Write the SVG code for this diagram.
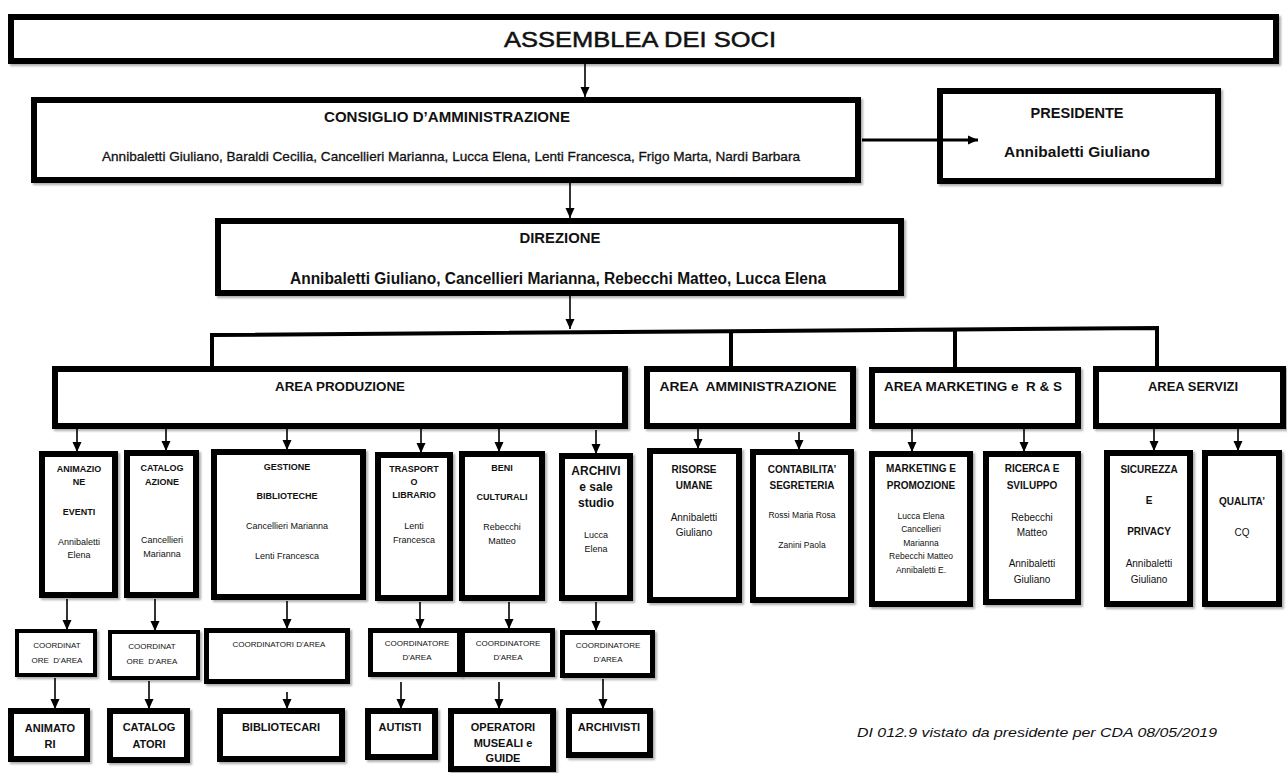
<svg xmlns="http://www.w3.org/2000/svg" width="1287" height="773" viewBox="0 0 1287 773">
<defs>
<marker id="ah" markerUnits="userSpaceOnUse" markerWidth="10" markerHeight="10" viewBox="0 0 10 10" refX="10" refY="5" orient="auto"><path d="M0,0.5 L10,5 L0,9.5 z" fill="#000"/></marker>
<filter id="sh" x="-10%" y="-10%" width="130%" height="130%"><feDropShadow dx="2" dy="2" stdDeviation="1" flood-color="#777" flood-opacity="0.6"/></filter>
<style>
rect{fill:#fff;stroke:#000;stroke-width:6;filter:url(#sh)}
rect.t4{stroke-width:4}
rect.t5{stroke-width:5}
text{font-family:"Liberation Sans Narrow","Liberation Sans",Arial,sans-serif;fill:#111;text-anchor:middle}
.h{font-weight:bold}
.big{font-size:22px}
.m{font-size:15px}
.a{font-size:13px;font-weight:bold;white-space:pre}
.s{font-size:9px}
.sb{font-size:9px;font-weight:bold}
.k{font-size:8px;white-space:pre}
.bb{font-size:11px;font-weight:bold}
.foot{font-size:13px;font-style:italic}
.c line,.c path{stroke:#000;fill:none}
.ar{stroke-width:1.6;marker-end:url(#ah)}
</style>
</defs>

<g id="assemblea"><rect x="11" y="17" width="1265" height="44"/><text class="big" x="640" y="47" textLength="272" lengthAdjust="spacingAndGlyphs" style="stroke:#111;stroke-width:0.5">ASSEMBLEA DEI SOCI</text></g>

<g id="consiglio"><rect x="34" y="100" width="824" height="80"/>
<text class="m h" x="447" y="122" textLength="246" lengthAdjust="spacingAndGlyphs">CONSIGLIO D’AMMINISTRAZIONE</text>
<text x="451" y="161" style="font-size:13.5px;stroke:#111;stroke-width:0.3" textLength="698" lengthAdjust="spacingAndGlyphs">Annibaletti Giuliano, Baraldi Cecilia, Cancellieri Marianna, Lucca Elena, Lenti Francesca, Frigo Marta, Nardi Barbara</text></g>

<g id="presidente"><rect x="940" y="91" width="278" height="90"/>
<text class="m h" x="1077" y="118" textLength="93" lengthAdjust="spacingAndGlyphs">PRESIDENTE</text>
<text class="m h" x="1077" y="157" textLength="146" lengthAdjust="spacingAndGlyphs">Annibaletti Giuliano</text></g>

<g id="direzione"><rect x="218" y="221" width="683" height="72"/>
<text class="m h" x="560" y="243" textLength="81" lengthAdjust="spacingAndGlyphs">DIREZIONE</text>
<text class="m h" x="558" y="284" style="font-size:16px" textLength="536" lengthAdjust="spacingAndGlyphs">Annibaletti Giuliano, Cancellieri Marianna, Rebecchi Matteo, Lucca Elena</text></g>

<g id="area-produzione"><rect x="55" y="369" width="570" height="57"/><text class="a" x="340" y="391" textLength="130" lengthAdjust="spacingAndGlyphs">AREA PRODUZIONE</text></g>
<g id="area-amministrazione"><rect x="647" y="369" width="206" height="57"/><text class="a" x="748" y="391" textLength="177" lengthAdjust="spacingAndGlyphs">AREA  AMMINISTRAZIONE</text></g>
<g id="area-marketing"><rect x="872" y="370" width="206" height="56"/><text class="a" x="973" y="391" textLength="178" lengthAdjust="spacingAndGlyphs">AREA MARKETING e  R &amp; S</text></g>
<g id="area-servizi"><rect x="1096" y="369" width="187" height="57"/><text class="a" x="1193" y="391" textLength="90" lengthAdjust="spacingAndGlyphs">AREA SERVIZI</text></g>

<g id="animazione"><rect x="42" y="454" width="73" height="141"/>
<text class="sb" x="79" y="472">ANIMAZIO</text><text class="sb" x="79" y="485">NE</text><text class="sb" x="79" y="515">EVENTI</text>
<text class="s" x="79" y="545">Annibaletti</text><text class="s" x="79" y="558">Elena</text></g>
<g id="catalogazione"><rect x="127" y="453" width="69" height="142"/>
<text class="sb" x="162" y="471">CATALOG</text><text class="sb" x="162" y="485">AZIONE</text>
<text class="s" x="162" y="543">Cancellieri</text><text class="s" x="162" y="557">Marianna</text></g>
<g id="gestione"><rect x="214" y="452" width="149" height="145"/>
<text class="sb" x="287" y="470">GESTIONE</text><text class="sb" x="287" y="499">BIBLIOTECHE</text>
<text class="s" x="287" y="529">Cancellieri Marianna</text><text class="s" x="287" y="559">Lenti Francesca</text></g>
<g id="trasporto"><rect x="378" y="455" width="72" height="143"/>
<text class="sb" x="414" y="472">TRASPORT</text><text class="sb" x="414" y="485">O</text><text class="sb" x="414" y="498">LIBRARIO</text>
<text class="s" x="414" y="529">Lenti</text><text class="s" x="414" y="543">Francesca</text></g>
<g id="beni"><rect x="462" y="454" width="80" height="144"/>
<text class="sb" x="502" y="471">BENI</text><text class="sb" x="502" y="500">CULTURALI</text>
<text class="s" x="502" y="530">Rebecchi</text><text class="s" x="502" y="544">Matteo</text></g>
<g id="archivi"><rect x="562" y="456" width="68" height="142"/>
<text class="h" x="596" y="475" style="font-size:12px">ARCHIVI</text><text class="h" x="596" y="491" style="font-size:12px">e sale</text><text class="h" x="596" y="507" style="font-size:12px">studio</text>
<text class="s" x="596" y="538">Lucca</text><text class="s" x="596" y="552">Elena</text></g>
<g id="risorse"><rect x="650" y="451" width="89" height="149"/>
<text class="sb" x="694" y="473" style="font-size:10px">RISORSE</text><text class="sb" x="694" y="489" style="font-size:10px">UMANE</text>
<text class="s" x="694" y="521" style="font-size:10px">Annibaletti</text><text class="s" x="694" y="536" style="font-size:10px">Giuliano</text></g>
<g id="contabilita"><rect x="753" y="452" width="98" height="148"/>
<text class="sb" x="802" y="473" style="font-size:10px">CONTABILITA’</text><text class="sb" x="802" y="489" style="font-size:10px">SEGRETERIA</text>
<text class="s" x="802" y="518" style="font-size:8.5px">Rossi Maria Rosa</text><text class="s" x="802" y="548" style="font-size:8.5px">Zanini Paola</text></g>
<g id="marketing"><rect x="872" y="454" width="98" height="150"/>
<text class="sb" x="921" y="472" style="font-size:10px">MARKETING E</text><text class="sb" x="921" y="489" style="font-size:10px">PROMOZIONE</text>
<text class="s" x="921" y="519" style="font-size:8.5px">Lucca Elena</text><text class="s" x="921" y="532" style="font-size:8.5px">Cancellieri</text><text class="s" x="921" y="546" style="font-size:8.5px">Marianna</text><text class="s" x="921" y="559" style="font-size:8.5px">Rebecchi Matteo</text><text class="s" x="921" y="573" style="font-size:8.5px">Annibaletti E.</text></g>
<g id="ricerca"><rect x="986" y="454" width="92" height="148"/>
<text class="sb" x="1032" y="472" style="font-size:10px">RICERCA E</text><text class="sb" x="1032" y="489" style="font-size:10px">SVILUPPO</text>
<text class="s" x="1032" y="521" style="font-size:10px">Rebecchi</text><text class="s" x="1032" y="536" style="font-size:10px">Matteo</text>
<text class="s" x="1032" y="567" style="font-size:10px">Annibaletti</text><text class="s" x="1032" y="583" style="font-size:10px">Giuliano</text></g>
<g id="sicurezza"><rect x="1107" y="453" width="83" height="151"/>
<text class="sb" x="1149" y="473" style="font-size:10px">SICUREZZA</text><text class="sb" x="1149" y="504" style="font-size:10px">E</text><text class="sb" x="1149" y="535" style="font-size:10px">PRIVACY</text>
<text class="s" x="1149" y="567" style="font-size:10px">Annibaletti</text><text class="s" x="1149" y="583" style="font-size:10px">Giuliano</text></g>
<g id="qualita"><rect x="1205" y="453" width="74" height="151"/>
<text class="sb" x="1242" y="505" style="font-size:10px">QUALITA’</text><text class="s" x="1242" y="536" style="font-size:10px">CQ</text></g>

<g id="coord-animazione"><rect class="t4" x="17" y="631" width="78" height="44"/><text class="k" x="57" y="648">COORDINAT</text><text class="k" x="57" y="663">ORE  D'AREA</text></g>
<g id="coord-catalogazione"><rect class="t4" x="110" y="632" width="88" height="46"/><text class="k" x="152" y="649">COORDINAT</text><text class="k" x="152" y="664">ORE  D'AREA</text></g>
<g id="coord-gestione"><rect class="t5" x="206.5" y="630.5" width="141" height="51"/><text class="k" x="279" y="647">COORDINATORI D'AREA</text></g>
<g id="coord-trasporto"><rect class="t5" x="370.5" y="630.5" width="89" height="44"/><text class="k" x="417" y="646">COORDINATORE</text><text class="k" x="417" y="660">D'AREA</text></g>
<g id="coord-beni"><rect class="t5" x="462.5" y="630.5" width="90" height="44"/><text class="k" x="508" y="646">COORDINATORE</text><text class="k" x="508" y="660">D'AREA</text></g>
<g id="coord-archivi"><rect class="t5" x="562.5" y="632.5" width="90" height="43"/><text class="k" x="608" y="648">COORDINATORE</text><text class="k" x="608" y="662">D'AREA</text></g>

<g id="animatori"><rect x="11" y="711" width="76" height="48"/><text class="bb" x="50" y="732">ANIMATO</text><text class="bb" x="50" y="748">RI</text></g>
<g id="catalogatori"><rect x="110" y="711" width="77" height="49"/><text class="bb" x="149" y="731">CATALOG</text><text class="bb" x="149" y="748">ATORI</text></g>
<g id="bibliotecari"><rect x="220" y="711" width="122" height="48"/><text class="bb" x="281" y="731">BIBLIOTECARI</text></g>
<g id="autisti"><rect x="368" y="711" width="67" height="46"/><text class="bb" x="400" y="731">AUTISTI</text></g>
<g id="operatori"><rect x="451" y="711" width="102" height="58"/><text class="bb" x="503" y="731">OPERATORI</text><text class="bb" x="503" y="747">MUSEALI e</text><text class="bb" x="503" y="762">GUIDE</text></g>
<g id="archivisti"><rect x="569" y="711" width="81" height="44"/><text class="bb" x="609" y="731">ARCHIVISTI</text></g>

<text class="foot" x="1037" y="737" textLength="360" lengthAdjust="spacingAndGlyphs">DI 012.9 vistato da presidente per CDA 08/05/2019</text>

<g class="c" id="connectors">
<line class="ar" x1="585" y1="64" x2="585" y2="97"/>
<line class="ar" x1="862" y1="140" x2="978" y2="140" style="stroke-width:3"/>
<line class="ar" x1="570" y1="183" x2="570" y2="218"/>
<line class="ar" x1="570" y1="296" x2="570" y2="329"/>
<path d="M212,368 V335 L1157,328 V367 M731,331.2 V367 M955,329.5 V368" style="stroke-width:4"/>
<line class="ar" x1="77" y1="429" x2="77" y2="452"/>
<line class="ar" x1="166" y1="429" x2="166" y2="451"/>
<line class="ar" x1="287" y1="429" x2="287" y2="450"/>
<line class="ar" x1="421" y1="429" x2="421" y2="453"/>
<line class="ar" x1="499" y1="429" x2="499" y2="452"/>
<line class="ar" x1="596" y1="430" x2="596" y2="454"/>
<line class="ar" x1="698" y1="429" x2="698" y2="449"/>
<line class="ar" x1="799" y1="432" x2="799" y2="450"/>
<line class="ar" x1="912" y1="429" x2="912" y2="452"/>
<line class="ar" x1="1024" y1="429" x2="1024" y2="452"/>
<line class="ar" x1="1154" y1="429" x2="1154" y2="451"/>
<line class="ar" x1="1238" y1="429" x2="1238" y2="451"/>
<line class="ar" x1="67" y1="599" x2="67" y2="630"/>
<line class="ar" x1="155" y1="599" x2="155" y2="631"/>
<line class="ar" x1="287" y1="601" x2="287" y2="629"/>
<line class="ar" x1="420" y1="602" x2="420" y2="629"/>
<line class="ar" x1="509" y1="602" x2="509" y2="629"/>
<line class="ar" x1="596" y1="602" x2="596" y2="631"/>
<line class="ar" x1="55" y1="678" x2="55" y2="709"/>
<line class="ar" x1="149" y1="681" x2="149" y2="709"/>
<line class="ar" x1="287" y1="692" x2="287" y2="709"/>
<line class="ar" x1="401" y1="682" x2="401" y2="709"/>
<line class="ar" x1="499" y1="682" x2="499" y2="709"/>
<line class="ar" x1="603" y1="679" x2="603" y2="709"/>
</g>
</svg>
